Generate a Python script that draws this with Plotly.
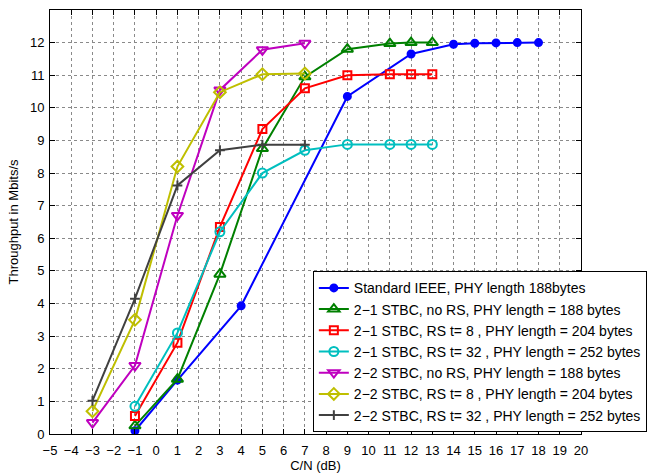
import plotly.graph_objects as go

# ---- data ----
x_std = [-1, 1, 4, 9, 12, 14, 15, 16, 17, 18]
y_std = [0.1, 1.65, 3.93, 10.35, 11.65, 11.95, 11.98, 11.99, 12.0, 12.0]

x_21 = [-1, 1, 3, 5, 7, 9, 11, 12, 13]
y_21_nors = [0.25, 1.68, 4.9, 8.75, 10.95, 11.8, 11.97, 12.0, 12.0]
y_21_rs8 = [0.55, 2.8, 6.35, 9.35, 10.6, 11.0, 11.03, 11.03, 11.03]
y_21_rs32 = [0.85, 3.1, 6.2, 8.0, 8.7, 8.88, 8.88, 8.88, 8.88]

x_22 = [-3, -1, 1, 3, 5, 7]
y_22_nors = [0.35, 2.1, 6.7, 10.55, 11.78, 11.98]
y_22_rs8 = [0.7, 3.5, 8.2, 10.48, 11.03, 11.05]
y_22_rs32 = [1.02, 4.15, 7.62, 8.7, 8.87, 8.87]

names = [
    "Standard IEEE, PHY length 188bytes",
    "2\u22121 STBC, no RS, PHY length = 188 bytes",
    "2\u22121 STBC, RS t= 8 , PHY length = 204 bytes",
    "2\u22121 STBC, RS t= 32 , PHY length = 252 bytes",
    "2\u22122 STBC, no RS, PHY length = 188 bytes",
    "2\u22122 STBC, RS t= 8 , PHY length = 204 bytes",
    "2\u22122 STBC, RS t= 32 , PHY length = 252 bytes",
]
x_ticks = list(range(-5, 21))
y_ticks = list(range(0, 13))

series = [
    (x_std, y_std, "#0000FF", "circle", 7),
    (x_21, y_21_nors, "#008000", "triangle-up-open", 10),
    (x_21, y_21_rs8, "#FF0000", "square-open", 8),
    (x_21, y_21_rs32, "#00BFBF", "circle-open", 9),
    (x_22, y_22_nors, "#BF00BF", "triangle-down-open", 10),
    (x_22, y_22_rs8, "#BFBF00", "diamond-open", 9),
    (x_22, y_22_rs32, "#404040", "cross-thin-open", 7),
]

fig = go.Figure()
for (xs, ys, c, sym, sz), nm in zip(series, names):
    fig.add_trace(go.Scatter(
        x=xs, y=ys, name=nm, mode="lines+markers",
        line=dict(color=c, width=2),
        marker=dict(symbol=sym, size=sz, color=c, line=dict(color=c, width=2)),
    ))

axis_common = dict(
    showline=True, linecolor="black", linewidth=1, mirror="ticks",
    ticks="inside", ticklen=5, tickcolor="black",
    showgrid=True, gridcolor="#8a8a8a", griddash="dot", gridwidth=1,
    zeroline=False, automargin=False,
    tickfont=dict(family="Liberation Sans, Arial", size=13, color="black"),
)

fig.update_layout(
    width=657, height=474,
    margin=dict(l=50, r=70, t=10, b=40),
    paper_bgcolor="white", plot_bgcolor="white",
    font=dict(family="Liberation Sans, Arial", size=13, color="black"),
    xaxis=dict(range=[-5, 20], tickvals=x_ticks, ticklabelstandoff=4,
               title=dict(text="C/N (dB)", standoff=1,
                          font=dict(size=13)), **axis_common),
    yaxis=dict(range=[0, 13], tickvals=y_ticks, ticklabelstandoff=2,
               title=dict(text="Throughput in Mbits/s", standoff=8,
                          font=dict(size=13)), **axis_common),
    legend=dict(
        x=0.495, y=0.004, xanchor="left", yanchor="bottom",
        bgcolor="white", bordercolor="black", borderwidth=1,
        font=dict(family="Liberation Sans, Arial", size=14, color="black"),
        tracegroupgap=0, itemwidth=30,
    ),
    showlegend=True,
)

fig.write_html("out.html")
